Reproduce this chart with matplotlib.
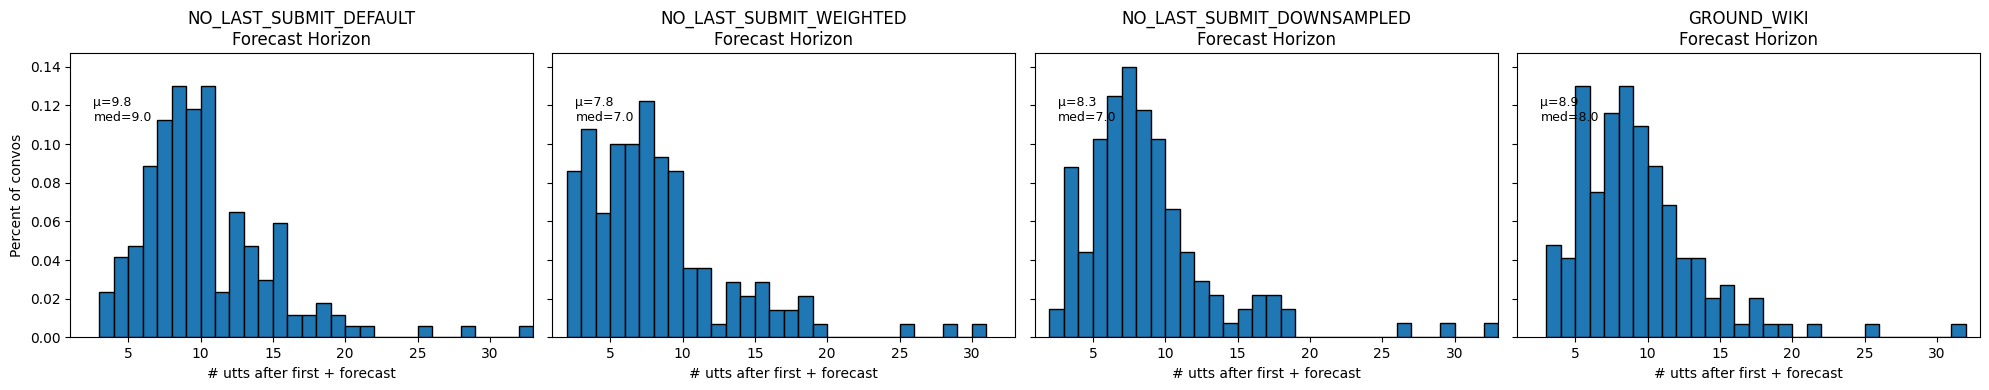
import matplotlib
matplotlib.use("Agg")
import matplotlib.pyplot as plt
import numpy as np

titles = ["NO_LAST_SUBMIT_DEFAULT", "NO_LAST_SUBMIT_WEIGHTED",
          "NO_LAST_SUBMIT_DOWNSAMPLED", "GROUND_WIKI"]

# bin ranges (first left edge, last right edge), width 1
bin_start = [3, 2, 2, 3]
bin_end = [33, 31, 33, 32]

heights_default = [0.0237, 0.0414, 0.0473, 0.0888, 0.1124, 0.1302, 0.1183, 0.1302,
                   0.0237, 0.0651, 0.0473, 0.0296, 0.0592, 0.0118, 0.0118, 0.0178,
                   0.0118, 0.0059, 0.0059, 0, 0, 0, 0.0059, 0, 0, 0.0059, 0, 0, 0, 0.0059]
heights_weighted = [0.0860, 0.1078, 0.0643, 0.1003, 0.1003, 0.1222, 0.0933, 0.0860,
                    0.0359, 0.0359, 0.0069, 0.0286, 0.0214, 0.0286, 0.0141, 0.0141,
                    0.0214, 0.0069, 0, 0, 0, 0, 0, 0.0069, 0, 0, 0.0069, 0, 0.0069]
heights_downsampled = [0.0147, 0.0882, 0.0441, 0.1029, 0.1250, 0.1397, 0.1176, 0.1029,
                       0.0662, 0.0441, 0.0294, 0.0221, 0.0074, 0.0147, 0.0221, 0.0221,
                       0.0147, 0, 0, 0, 0, 0, 0, 0, 0.0074, 0, 0, 0.0074, 0, 0, 0.0074]
heights_wiki = [0.0478, 0.0410, 0.1300, 0.0752, 0.1162, 0.1300, 0.1093, 0.0886,
                0.0684, 0.0410, 0.0410, 0.0203, 0.0271, 0.0069, 0.0203, 0.0069,
                0.0069, 0, 0.0071, 0, 0, 0, 0.0071, 0, 0, 0, 0, 0, 0.0071]
all_heights = [heights_default, heights_weighted, heights_downsampled, heights_wiki]

stats_text = ["μ=9.8\nmed=9.0", "μ=7.8\nmed=7.0", "μ=8.3\nmed=7.0", "μ=8.9\nmed=8.0"]

xlabel = "# utts after first + forecast"
ylabel = "Percent of convos"

W, H = 1990, 390
fig = plt.figure(figsize=(W / 100, H / 100), dpi=100)

lefts_px = [70.3, 552.3, 1035.0, 1517.3]
ax_w_px = 463.0
top_px, bottom_px = 53.3, 337.3

axes = []
for i in range(4):
    rect = [lefts_px[i] / W, 1 - bottom_px / H, ax_w_px / W, (bottom_px - top_px) / H]
    if i == 0:
        ax = fig.add_axes(rect)
    else:
        ax = fig.add_axes(rect, sharey=axes[0])
    axes.append(ax)

for i, ax in enumerate(axes):
    edges = np.arange(bin_start[i], bin_end[i] + 1)
    ax.hist(edges[:-1], bins=edges, weights=all_heights[i],
            color="#1f77b4", edgecolor="black", linewidth=1.0)
    ax.set_xlim(1, 33)
    ax.set_title(f"{titles[i]}\nForecast Horizon", fontsize=12)
    ax.set_xlabel(xlabel, fontsize=10)
    ax.text(0.05, 0.85, stats_text[i], transform=ax.transAxes,
            va="top", ha="left", fontsize=9)
    if i == 0:
        ax.set_ylabel(ylabel, fontsize=10)
    else:
        ax.tick_params(labelleft=False)

axes[0].set_ylim(0, 0.147)
axes[0].set_yticks([0.0, 0.02, 0.04, 0.06, 0.08, 0.10, 0.12, 0.14])

fig.savefig("out.png", dpi=100)
